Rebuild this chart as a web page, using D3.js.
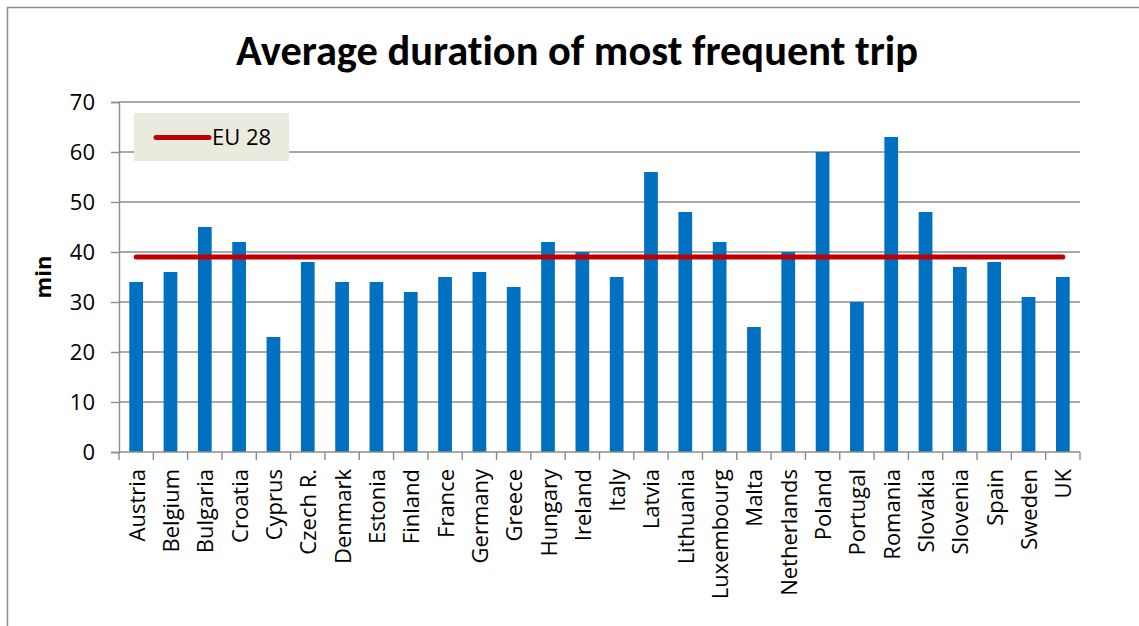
<!DOCTYPE html>
<html><head><meta charset="utf-8">
<script src="https://cdn.jsdelivr.net/npm/d3@7"></script>
<style>body{margin:0;background:#fff;} svg{display:block;} text{font-variant-ligatures:none;}</style>
</head><body>
<svg id="c" width="1139" height="626"></svg>
<script>
const categories = ["Austria","Belgium","Bulgaria","Croatia","Cyprus","Czech R.","Denmark","Estonia","Finland","France","Germany","Greece","Hungary","Ireland","Italy","Latvia","Lithuania","Luxembourg","Malta","Netherlands","Poland","Portugal","Romania","Slovakia","Slovenia","Spain","Sweden","UK"];
const values = [34,36,45,42,23,38,34,34,32,35,36,33,42,40,35,56,48,42,25,40,60,30,63,48,37,38,31,35];
const euAverage = 39;
const yTicks = [0,10,20,30,40,50,60,70];
const titleText = "Average duration of most frequent trip";
const yLabel = "min";
const legendLabel = "EU 28";

const FONT = "'Open Sans', sans-serif";
const TFONT = "Carlito, 'Open Sans', sans-serif";
const FS = 22;
const svg = d3.select("#c");
const m = {left:119, right:1080, top:102, bottom:452};

// outer frame
svg.append("rect").attr("x",7.5).attr("y",7.5).attr("width",1200).attr("height",700)
  .attr("fill","none").attr("stroke","#8c8c8c").attr("stroke-width",1.5);

const x = d3.scaleBand().domain(categories).range([m.left,m.right]).paddingInner(0.6).paddingOuter(0.3);
const y = d3.scaleLinear().domain([0,70]).range([m.bottom,m.top]);

// gridlines
svg.append("g").selectAll("line").data(yTicks.filter(d=>d>0)).join("line")
  .attr("x1",m.left).attr("x2",m.right).attr("y1",d=>y(d)).attr("y2",d=>y(d))
  .attr("stroke","#8c8c8c").attr("stroke-width",1.4);

// y axis
const yAxis = svg.append("g").attr("transform",`translate(${m.left},0)`)
  .call(d3.axisLeft(y).tickValues(yTicks).tickSize(8).tickPadding(16));
yAxis.select(".domain").attr("stroke","#8c8c8c").attr("stroke-width",1.4);
yAxis.selectAll(".tick line").attr("stroke","#8c8c8c").attr("stroke-width",1.4);
yAxis.selectAll("text").attr("font-family",FONT).attr("font-size",FS).attr("fill","#000");

// bars
svg.append("g").selectAll("rect").data(categories).join("rect")
  .attr("x",d=>x(d)).attr("width",x.bandwidth())
  .attr("y",(d,i)=>y(values[i])).attr("height",(d,i)=>y(0)-y(values[i]))
  .attr("fill","#0070C0");

// x axis with ticks at band boundaries
const xEdges = d3.range(categories.length+1).map(i=>m.left + i*(m.right-m.left)/categories.length);
const xg = svg.append("g");
xg.append("line").attr("x1",m.left).attr("x2",m.right).attr("y1",m.bottom).attr("y2",m.bottom)
  .attr("stroke","#8c8c8c").attr("stroke-width",1.4);
xg.selectAll("line.t").data(xEdges).join("line").attr("class","t")
  .attr("x1",d=>d).attr("x2",d=>d).attr("y1",m.bottom).attr("y2",m.bottom+8)
  .attr("stroke","#8c8c8c").attr("stroke-width",1.4);
xg.selectAll("text").data(categories).join("text")
  .attr("transform",d=>`translate(${x(d)+x.bandwidth()/2+8.5},${m.bottom+17}) rotate(-90)`)
  .attr("text-anchor","end").attr("font-family",FONT).attr("font-size",FS).attr("fill","#000")
  .text(d=>d);

// EU line
svg.append("line")
  .attr("x1",x(categories[0])+x.bandwidth()/2).attr("x2",x(categories[categories.length-1])+x.bandwidth()/2)
  .attr("y1",y(euAverage)).attr("y2",y(euAverage))
  .attr("stroke","#C00000").attr("stroke-width",5).attr("stroke-linecap","round");

// legend
const lg = svg.append("g");
lg.append("rect").attr("x",134).attr("y",113).attr("width",155).attr("height",48).attr("fill","#EAEADF");
lg.append("line").attr("x1",156).attr("x2",209).attr("y1",137.5).attr("y2",137.5)
  .attr("stroke","#C00000").attr("stroke-width",5).attr("stroke-linecap","round");
lg.append("text").attr("x",212).attr("y",145).attr("font-family",FONT).attr("font-size",FS).text(legendLabel);

// y label
svg.append("text").attr("transform","translate(51,277) rotate(-90)").attr("text-anchor","middle")
  .attr("font-family",FONT).attr("font-size",FS).attr("font-weight","bold").text(yLabel);

// title
const t = svg.append("text").attr("x",577).attr("y",65).attr("text-anchor","middle")
  .attr("font-family",TFONT).attr("font-weight","bold").attr("font-size",32).text(titleText);
const w = t.node().getComputedTextLength();
t.attr("font-size",32*682/w);
</script>
</body></html>
